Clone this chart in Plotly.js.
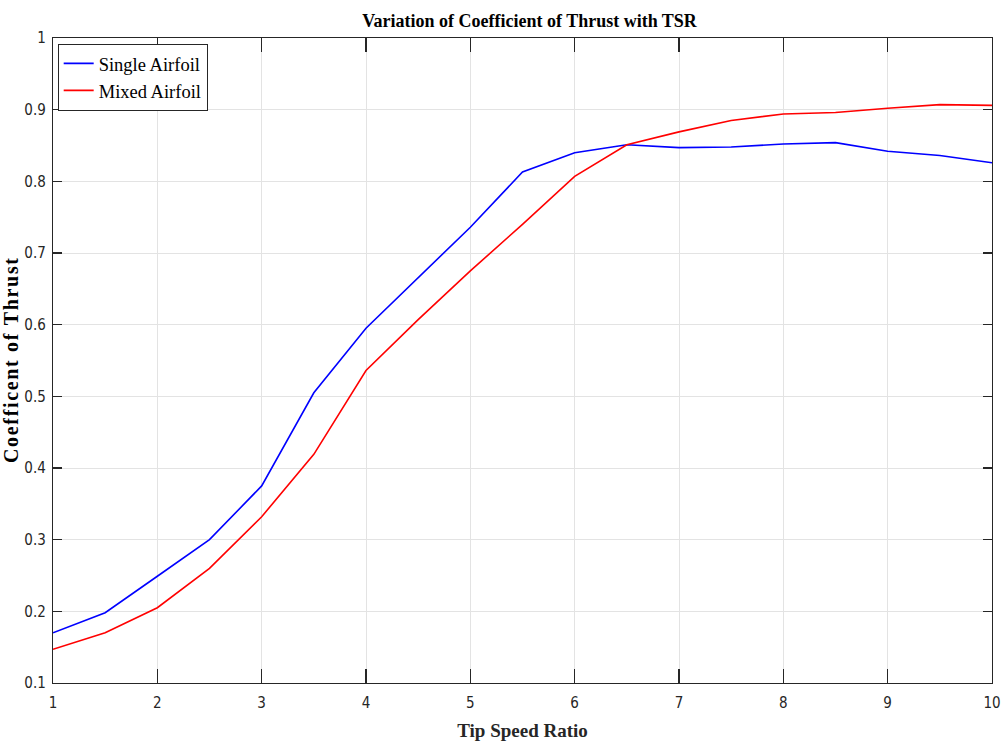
<!DOCTYPE html>
<html>
<head>
<meta charset="utf-8">
<script src="https://cdn.plot.ly/plotly-3.0.1.min.js"></script>
<style>html,body{margin:0;padding:0;background:#fff;}#chart{width:1001px;height:745px;}</style>
</head>
<body>
<div id="chart"></div>
<script>
const tsr = [1, 1.5, 2, 2.5, 3, 3.5, 4, 4.5, 5, 5.5, 6, 6.5, 7, 7.5, 8, 8.5, 9, 9.5, 10];
const singleAirfoil = [0.170, 0.198, 0.249, 0.300, 0.375, 0.505, 0.595, 0.665, 0.736, 0.813, 0.840, 0.851, 0.847, 0.848, 0.852, 0.854, 0.842, 0.836, 0.826];
const mixedAirfoil = [0.147, 0.170, 0.205, 0.260, 0.332, 0.419, 0.536, 0.607, 0.675, 0.740, 0.807, 0.851, 0.869, 0.885, 0.894, 0.896, 0.902, 0.907, 0.906];
const xTicks = [1, 2, 3, 4, 5, 6, 7, 8, 9, 10];
const yTicks = [0.1, 0.2, 0.3, 0.4, 0.5, 0.6, 0.7, 0.8, 0.9, 1];
const yTickLabels = ['0.1', '0.2', '0.3', '0.4', '0.5', '0.6', '0.7', '0.8', '0.9', '1'];

const tickFont = {family: '"Liberation Sans Narrow", "Arial Narrow", "DejaVu Sans Condensed", sans-serif', size: 15, color: '#262626'};
const serif = '"Liberation Serif", "Times New Roman", serif';
const yTitle = 'Coefficent of Thrust'.split('').join('\u200A');

const traces = [
  {x: tsr, y: singleAirfoil, type: 'scatter', mode: 'lines', name: 'Single Airfoil', line: {color: '#0000ff', width: 1.6}},
  {x: tsr, y: mixedAirfoil, type: 'scatter', mode: 'lines', name: 'Mixed Airfoil', line: {color: '#ff0000', width: 1.6}}
];

const layout = {
  width: 1001, height: 745,
  margin: {l: 53, r: 9, t: 38, b: 62},
  paper_bgcolor: '#ffffff', plot_bgcolor: '#ffffff',
  title: {text: '<b>Variation of Coefficient of Thrust with TSR</b>', font: {family: serif, size: 18, color: '#000'}, x: 0.529, xanchor: 'center', y: 0.972, yanchor: 'middle'},
  xaxis: {
    range: [1, 10], tickvals: xTicks, ticktext: xTicks.map(String),
    showline: true, linecolor: '#262626', linewidth: 1.2, mirror: 'ticks',
    ticks: 'inside', ticklen: 14, tickcolor: '#262626', tickwidth: 1.2,
    showgrid: true, gridcolor: '#e3e3e3', gridwidth: 1, zeroline: false,
    tickfont: tickFont, ticklabelstandoff: 6,
    title: {text: '<b>Tip Speed Ratio</b>', font: {family: serif, size: 19, color: '#262626'}, standoff: 12}
  },
  yaxis: {
    range: [0.1, 1], tickvals: yTicks, ticktext: yTickLabels,
    showline: true, linecolor: '#262626', linewidth: 1.2, mirror: 'ticks',
    ticks: 'inside', ticklen: 9, tickcolor: '#262626', tickwidth: 1.2,
    showgrid: true, gridcolor: '#e3e3e3', gridwidth: 1, zeroline: false,
    tickfont: tickFont, ticklabelstandoff: 3,
    title: {text: '<b>' + yTitle + '</b>', font: {family: serif, size: 20, color: '#000'}, standoff: 0}
  },
  legend: {
    x: 0.005, y: 0.991, xanchor: 'left', yanchor: 'top',
    bgcolor: '#ffffff', bordercolor: '#262626', borderwidth: 1,
    font: {family: serif, size: 18.5, color: '#000'},
    itemwidth: 30, tracegroupgap: 0
  },
  showlegend: true
};

Plotly.newPlot('chart', traces, layout, {displayModeBar: false, staticPlot: true});
</script>
</body>
</html>
